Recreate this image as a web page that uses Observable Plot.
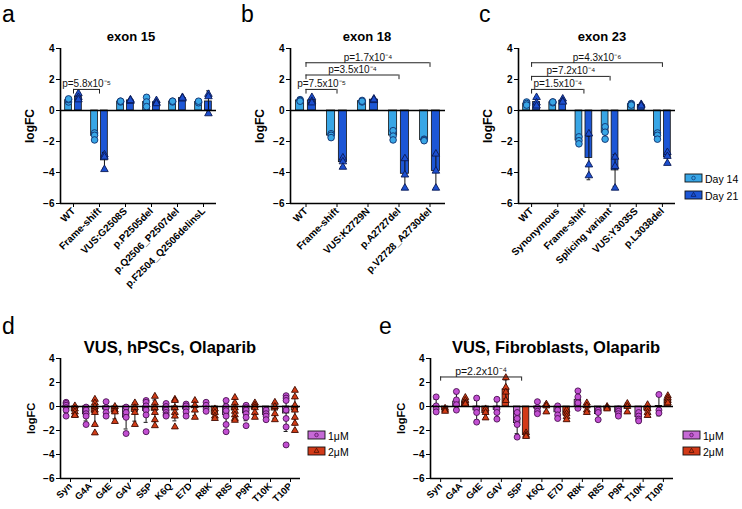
<!DOCTYPE html>
<html><head><meta charset="utf-8">
<script src="https://cdn.jsdelivr.net/npm/d3@7"></script>
<script src="https://cdn.jsdelivr.net/npm/@observablehq/plot@0.6"></script>
<style>
body{margin:0;background:#fff;}
#root{position:relative;width:742px;height:509px;overflow:hidden;font-family:"Liberation Sans",Arial,sans-serif;background:#fff;}
.pan{position:absolute;}
.pan svg{overflow:visible;}
g[aria-label="y-axis label"] text{font-size:12px;}
.small g[aria-label="y-axis label"] text{font-size:11px;}
#overlay{position:absolute;left:0;top:0;pointer-events:none;}
</style></head>
<body><div id="root"></div>
<script>
// ---------- data ----------
const catsA = ["WT","Frame-shift","VUS:G2508S","p.P2505del","p.Q2506_P2507del","p.F2504_Q2506delinsL"];
const day14A = [[0.55,0.7,0.75],[-1.45,-1.6,-1.9],[0.6,0.55,0.6],[0.85,0.55,0.25],[0.6,0.55,0.6],[0.55,0.5,0.6]];
const day21A = [[1.1,0.85,0.7],[-2.85,-3.0,-3.8],[0.7,0.6,0.65],[0.65,0.5,0.45],[0.85,0.75,0.8],[1.05,0.9,-0.2]];
const pA = [{from:"WT",to:"Frame-shift",level:1.36,label:"p=5.8x10⁻⁵"}];

const catsB = ["WT","Frame-shift","VUS:K2729N","p.A2727del","p.V2728_A2730del"];
const day14B = [[0.7,0.65,0.6],[-1.5,-1.6,-1.75],[0.65,0.55,0.6],[-1.3,-1.65,-1.9],[-1.85,-1.9,-1.95]];
const day21B = [[0.85,0.6,0.5],[-3.05,-3.3,-3.65],[0.75,0.65,0.7],[-3.1,-4.15,-5.0],[-2.8,-3.9,-5.0]];
const pB = [
  {from:"WT",to:"Frame-shift",level:1.36,label:"p=7.5x10⁻⁵"},
  {from:"WT",to:"p.A2727del",level:2.29,label:"p=3.5x10⁻⁴"},
  {from:"WT",to:"p.V2728_A2730del",level:3.08,label:"p=1.7x10⁻⁴"}
];

const catsC = ["WT","Synonymous","Frame-shift","Splicing variant","VUS:Y3035S","p.L3038del"];
const day14C = [[0.55,0.45,0.35],[0.55,0.5,0.55],[-1.7,-1.95,-2.15],[-1.05,-1.4,-1.85],[0.45,0.4,0.35],[-1.45,-1.6,-1.85]];
const day21C = [[0.85,0.5,0.3],[0.75,0.6,0.55],[-1.5,-3.5,-4.2],[-3.0,-3.6,-5.0],[0.4,0.35,0.3],[-2.7,-2.95,-3.4]];
const pC = [
  {from:"WT",to:"Frame-shift",level:1.36,label:"p=1.5x10⁻⁴"},
  {from:"WT",to:"Splicing variant",level:2.2,label:"p=7.2x10⁻⁴"},
  {from:"WT",to:"p.L3038del",level:3.08,label:"p=4.3x10⁻⁶"}
];

const catsVUS = ["Syn","G4A","G4E","G4V","S5P","K6Q","E7D","R8K","R8S","P9R","T10K","T10P"];
const d1uM = [
  [0.35,0.25,0.1,-0.1,-0.3,-0.8],
  [-0.05,-0.3,-0.6,-0.8,-1.5],
  [0.4,-0.1,-0.5,-0.8],
  [-0.05,-0.5,-0.9,-2.25],
  [0.5,0.35,0.05,-0.3,-0.7,-2.1],
  [0.25,0.0,-0.3,-0.5,-0.7,-0.8],
  [0.2,0.05,-0.2,-0.45,-0.8],
  [0.35,0.1,-0.2,-0.4],
  [0.5,0.0,-0.35,-0.8,-1.5,-2.1],
  [0.1,-0.1,-0.3,-0.6,-0.9,-1.6],
  [-0.3,-0.6,-0.8,-1.1],
  [0.9,0.7,0.5,-0.3,-1.0,-1.7,-3.2]
];
const d2uM = [
  [0.05,-0.2,-0.45,-0.7,-0.75],
  [0.6,0.3,0.0,-0.3,-0.5,-1.5,-2.2],
  [0.0,-0.3,-0.45,-1.25],
  [0.3,-0.1,-0.5,-1.5],
  [0.85,0.3,-0.1,-0.5,-1.1,-1.6],
  [0.6,0.5,-0.1,-0.5,-0.8,-1.7],
  [0.5,0.1,-0.3,-0.9],
  [-0.2,-0.5,-0.8,-1.0],
  [0.75,0.3,-0.1,-0.4,-0.7,-1.0,-1.15],
  [0.3,0.1,-0.1,-0.5,-0.9],
  [0.35,0.0,-0.6,-1.1],
  [1.35,0.8,0.1,-0.3,-0.9,-1.4,-2.0]
];
const e1uM = [
  [0.8,0.05,-0.2,-0.45],
  [1.25,0.55,0.15,-0.3],
  [0.7,-0.2,-0.5,-1.3],
  [0.6,-0.2,-0.5,-1.05],
  [-0.5,-1.0,-1.5,-2.55],
  [0.4,-0.1,-0.4,-0.6],
  [0.05,-0.3,-0.7,-1.0],
  [1.3,0.8,0.3,-0.15],
  [-0.3,-0.5,-1.1],
  [-0.2,-0.4,-0.6,-0.8],
  [-0.5,-0.8,-1.05,-1.2],
  [1.0,-0.3,-0.55]
];
const e2uM = [
  [-0.15,-0.3,-0.4],
  [0.75,0.5,0.3,0.2],
  [-0.2,-0.5,-0.95],
  [2.4,1.6,1.2,0.5],
  [-2.2,-2.4,-2.5],
  [0.2,0.05,-0.45],
  [-0.3,-0.6,-0.85,-1.1],
  [0.3,0.05,-0.3,-0.5],
  [0.0,-0.1,-0.2],
  [0.25,0.0,-0.45],
  [0.15,-0.2,-0.5,-0.75],
  [0.9,0.7,0.5,0.3]
];
const pE = [{from:"Syn",to:"S5P",level:2.46,label:"p=2.2x10⁻⁴"}];
const yTicks = [-6,-4,-2,0,2,4];

// ---------- styles ----------
const blueStyles = [
  {bar:"#38a6e6", dot:"#38a6e6", dotStroke:"#10306e", symbol:"circle"},
  {bar:"#1c56d6", dot:"#1c4fd0", dotStroke:"#0a1a55", symbol:"triangle"}
];
const redStyles = [
  {bar:"#c66ad6", dot:"#c24fd2", dotStroke:"#4a1250", symbol:"circle"},
  {bar:"#d23a18", dot:"#d33c16", dotStroke:"#3e0a00", symbol:"triangle"}
];

function panel(cfg) {
  const {cats, series, styles, pvals, off, hw, cap, r, ml, mt, mb, mr, pw, ph, tickFont, drop, pFont} = cfg;
  const n = cats.length;
  const idx = c => cats.indexOf(c);
  const marks = [];
  series.forEach((vals, gi) => {
    const sign = gi === 0 ? -1 : 1;
    const st = styles[gi];
    const bars = vals.map((v, i) => {
      const cx = i + sign * off;
      return {cx, x1: cx - hw, x2: cx + hw, m: d3.mean(v), s: d3.deviation(v) || 0};
    });
    const pts = vals.flatMap((v, i) => v.map(val => ({cx: i + sign * off, v: val})));
    marks.push(
      Plot.rectY(bars, {x1:"x1", x2:"x2", y1:0, y2:"m", fill: st.bar, stroke:"#111", strokeWidth:0.8}),
      Plot.ruleX(bars, {x:"cx", y1: d => d.m - d.s, y2: d => d.m + d.s, stroke:"#111", strokeWidth:1}),
      Plot.ruleY(bars, {y: d => d.m + d.s, x1: d => d.cx - cap, x2: d => d.cx + cap, stroke:"#111", strokeWidth:1}),
      Plot.ruleY(bars, {y: d => d.m - d.s, x1: d => d.cx - cap, x2: d => d.cx + cap, stroke:"#111", strokeWidth:1}),
      Plot.dot(pts, {x:"cx", y:"v", r: st.symbol === "triangle" ? r * 0.85 : r, symbol: st.symbol, fill: st.dot, stroke: st.dotStroke, strokeWidth:0.9})
    );
  });
  marks.push(
    Plot.ruleY([0], {stroke:"#000", strokeWidth:1.6}),
    Plot.ruleY([-6], {stroke:"#000", strokeWidth:1.6}),
    Plot.ruleX([-0.5], {stroke:"#000", strokeWidth:1.6}),
    Plot.ruleY(pvals, {y:"level", x1: d => idx(d.from), x2: d => idx(d.to), stroke:"#222", strokeWidth:1}),
    Plot.ruleX(pvals, {x: d => idx(d.from), y1: d => d.level - drop, y2:"level", stroke:"#222", strokeWidth:1}),
    Plot.ruleX(pvals, {x: d => idx(d.to), y1: d => d.level - drop, y2:"level", stroke:"#222", strokeWidth:1}),
    Plot.text(pvals, {x: d => (idx(d.from) + idx(d.to)) / 2, y:"level", text:"label", lineAnchor:"bottom", dy:-2, fontWeight:"normal", fontSize:pFont, fill:"#111"}),
    Plot.axisY({ticks: yTicks, tickSize:4, tickPadding:2, label:"logFC", labelAnchor:"center", labelOffset: cfg.labelOffset, labelArrow:"none"}),
    Plot.axisX({ticks: d3.range(n), tickFormat: i => cats[i], tickRotate:-45, tickSize:4, tickPadding:2, fontSize: tickFont, label:null})
  );
  return Plot.plot({
    width: ml + pw + mr, height: mt + ph + mb,
    marginLeft: ml, marginRight: mr, marginTop: mt, marginBottom: mb,
    x: {domain: [-0.5, n - 0.5]},
    y: {domain: [-6, 4]},
    style: {fontFamily:"'Liberation Sans', Arial, sans-serif", fontSize:"10px", fontWeight:"bold", background:"transparent", color:"#000", overflow:"visible"},
    marks
  });
}

const root = document.getElementById("root");
function place(el, left, top, cls) {
  const d = document.createElement("div");
  d.className = "pan" + (cls ? " " + cls : "");
  d.style.left = left + "px"; d.style.top = top + "px";
  d.appendChild(el); root.appendChild(d);
}
const bigCfg = {styles: blueStyles, off:0.19, hw:0.13, cap:0.07, r:3.3, ml:60, mt:8, mb:110, mr:8, ph:155, tickFont:10, drop:0.3, pFont:10, labelOffset:35};
place(panel({...bigCfg, cats: catsA, series:[day14A, day21A], pvals:pA, pw:156}), 0, 40);
place(panel({...bigCfg, cats: catsB, series:[day14B, day21B], pvals:pB, pw:155}), 230, 40);
place(panel({...bigCfg, cats: catsC, series:[day14C, day21C], pvals:pC, pw:157}), 458, 40);
const smallCfg = {styles: redStyles, off:0.22, hw:0.16, cap:0.1, r:3, ml:60, mt:8, mb:45, mr:5, ph:120, tickFont:9.5, drop:0.35, pFont:10.5, labelOffset:33};
place(panel({...smallCfg, cats: catsVUS, series:[d1uM, d2uM], pvals:[], pw:240}), 0, 350, "small");
place(panel({...smallCfg, cats: catsVUS, series:[e1uM, e2uM], pvals:pE, pw:243}), 370, 350, "small");

// ---------- overlay text: panel letters, titles, legends ----------
const ov = d3.select(root).append("svg").attr("id","overlay").attr("width",742).attr("height",509)
  .style("font-family","'Liberation Sans', Arial, sans-serif");
const letters = [["a",2,22],["b",241,22],["c",479,22],["d",2,334],["e",379,334]];
ov.selectAll("text.letter").data(letters).join("text").attr("class","letter")
  .attr("x", d => d[1]).attr("y", d => d[2]).attr("font-size", 23).text(d => d[0]);
const titles = [["exon 15",131,41,13],["exon 18",367,41,13],["exon 23",602,41,13],
  ["VUS, hPSCs, Olaparib",170,353,16.5],["VUS, Fibroblasts, Olaparib",556,353,16.5]];
ov.selectAll("text.title").data(titles).join("text").attr("class","title")
  .attr("x", d => d[1]).attr("y", d => d[2]).attr("font-size", d => d[3]).attr("font-weight","bold")
  .attr("text-anchor","middle").text(d => d[0]);
const legends = [
  {x:685, y:174, label:"Day 14", st: blueStyles[0]},
  {x:685, y:191, label:"Day 21", st: blueStyles[1]},
  {x:308, y:431, label:"1μM", st: redStyles[0]},
  {x:308, y:447, label:"2μM", st: redStyles[1]},
  {x:683, y:431, label:"1μM", st: redStyles[0]},
  {x:683, y:447, label:"2μM", st: redStyles[1]}
];
const lg = ov.selectAll("g.leg").data(legends).join("g").attr("class","leg")
  .attr("transform", d => `translate(${d.x},${d.y})`);
lg.append("rect").attr("width",17).attr("height",8).attr("fill", d => d.st.bar).attr("stroke","#111").attr("stroke-width",0.9);
lg.append("path").attr("transform","translate(8.5,4)")
  .attr("d", d => d3.symbol(d.st.symbol === "circle" ? d3.symbolCircle : d3.symbolTriangle, 10)())
  .attr("fill", d => d.st.dot).attr("stroke", d => d.st.dotStroke).attr("stroke-width",0.7);
lg.append("text").attr("x",20).attr("y",8.5).attr("font-size",10.5).text(d => d.label);
</script>
</body></html>
